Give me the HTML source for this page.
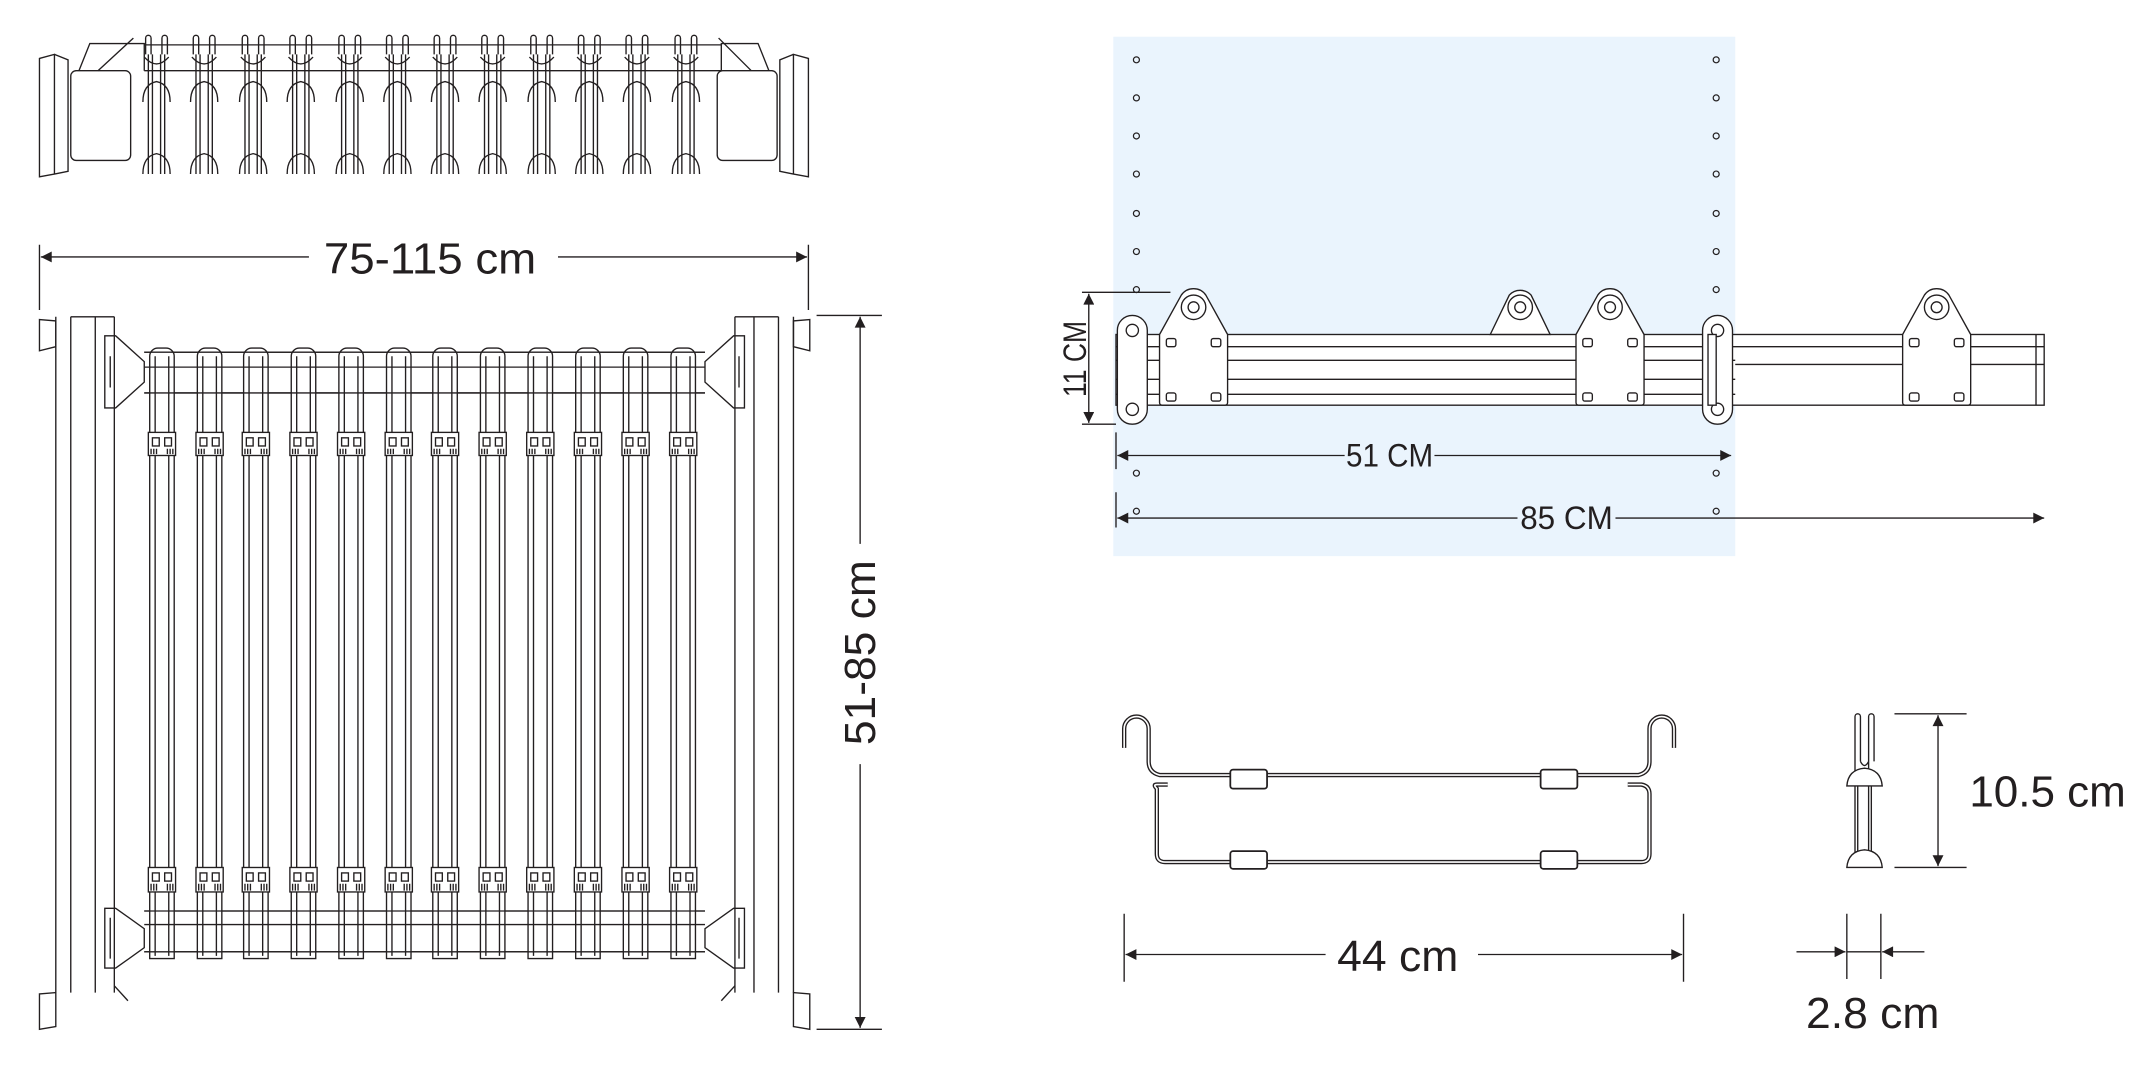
<!DOCTYPE html>
<html><head><meta charset="utf-8"><style>
html,body{margin:0;padding:0;background:#fff;}
svg{display:block;}
text{font-family:"Liberation Sans",sans-serif;fill:#231f20;}
</style></head><body>
<svg width="2134" height="1066" viewBox="0 0 1568 784" preserveAspectRatio="none" xmlns="http://www.w3.org/2000/svg">
<defs>
<marker id="ar" viewBox="0 0 10 10" refX="10" refY="5" markerWidth="10" markerHeight="8" markerUnits="userSpaceOnUse" orient="auto-start-reverse"><path d="M0,0 L10,5 L0,10 z" fill="#231f20"/></marker>
<g id="th" fill="none" stroke="#231f20" stroke-width="1">
<path d="M-8,40 V28 a2,2 0 0 1 4,0 V40 M4,40 V28 a2,2 0 0 1 4,0 V40"/>
<path d="M-6,40 V128 M-3,40 V128 M3,40 V128 M6,40 V128"/>
<path d="M-10,75 Q-10,62 0,60 Q10,62 10,75 M-10,128 Q-10,115 0,113 Q10,115 10,128"/>
<path d="M-9,42 Q0,52 9,42"/>
</g>
<g id="fh" fill="none" stroke="#231f20" stroke-width="1">
<path d="M-9,705 V262 a6,6 0 0 1 6,-6 H3 a6,6 0 0 1 6,6 V705 Z" fill="#fff"/>
<path d="M-5,262 V703 M5,262 V703"/>
<rect x="-10" y="318" width="20" height="17" fill="#fff"/>
<rect x="-7" y="322" width="5" height="6"/><rect x="2" y="322" width="5" height="6"/>
<path d="M-8,330 V334 M-6,330 V334 M-4,330 V334 M4,330 V334 M6,330 V334 M8,330 V334"/>
<rect x="-10" y="638" width="20" height="18" fill="#fff"/>
<rect x="-7" y="642" width="5" height="6"/><rect x="2" y="642" width="5" height="6"/>
<path d="M-8,650 V655 M-6,650 V655 M-4,650 V655 M4,650 V655 M6,650 V655 M8,650 V655"/>
</g>
<g id="mount" fill="#fff" stroke="#231f20" stroke-width="1">
<path d="M-25,246 L-9,217 A11,11 0 0 1 9,217 L25,246 V296 a2,2 0 0 1 -2,2 H-23 a2,2 0 0 1 -2,-2 Z"/>
<circle cx="0" cy="226" r="9"/><circle cx="0" cy="226" r="4"/>
<rect x="-20" y="249" width="7" height="6" rx="1.5"/><rect x="13" y="249" width="7" height="6" rx="1.5"/>
<rect x="-20" y="289" width="7" height="6" rx="1.5"/><rect x="13" y="289" width="7" height="6" rx="1.5"/>
</g>
<g id="cap" fill="#fff" stroke="#231f20" stroke-width="1">
<rect x="-11" y="232" width="22" height="80" rx="11"/>
<circle cx="0" cy="243" r="4.5"/><circle cx="0" cy="301" r="4.5"/>
</g>
</defs>

<!-- TOP VIEW -->
<g fill="none" stroke="#231f20" stroke-width="1">
<path d="M29,43 L40,40 V128 L29,130 Z M40,40 L50,44 V126 L40,128"/>
<rect x="52" y="52" width="44" height="66" rx="4"/>
<path d="M58,52 L66,32 H106 V52 M72,52 L98,28"/>
<path d="M106,33 H530 M106,52 H530"/>
<path d="M594,43 L583,40 V128 L594,130 Z M583,40 L573,44 V126 L583,128"/>
<rect x="527" y="52" width="44" height="66" rx="4"/>
<path d="M565,52 L557,32 H530 V52 M552,52 L528,28"/>
</g>
<use href="#th" x="115"/><use href="#th" x="150"/><use href="#th" x="186"/><use href="#th" x="221"/>
<use href="#th" x="257"/><use href="#th" x="292"/><use href="#th" x="327"/><use href="#th" x="362"/>
<use href="#th" x="398"/><use href="#th" x="433"/><use href="#th" x="468"/><use href="#th" x="504"/>

<!-- 75-115 dimension -->
<g stroke="#231f20" stroke-width="1" fill="none">
<path d="M29,180 V228 M594,180 V228"/>
<path d="M30,189 H227" marker-start="url(#ar)"/>
<path d="M410,189 H593" marker-end="url(#ar)"/>
</g>
<text x="316" y="201" font-size="32" text-anchor="middle" textLength="156" lengthAdjust="spacingAndGlyphs">75-115 cm</text>

<!-- FRONT VIEW -->
<g fill="none" stroke="#231f20" stroke-width="1">
<path d="M41,233 V730 M52,233 V730 M70,233 V730 M84,233 V730 M52,233 H84"/>
<path d="M29,235 L41,236 V255 L29,258 Z M29,731 L41,730 V755 L29,757 Z"/>
<path d="M583,233 V730 M572,233 V730 M554,233 V730 M540,233 V730 M540,233 H572"/>
<path d="M595,235 L583,236 V255 L595,258 Z M595,731 L583,730 V755 L595,757 Z"/>
<path d="M84,725 L94,736 M540,725 L530,736"/>
<path d="M77,247 L85,247 L106,266 V281 L85,300 L77,300 Z M81,262 V285"/>
<path d="M547,247 L539,247 L518,266 V281 L539,300 L547,300 Z M543,262 V285"/>
<path d="M106,259 H518 M106,289 H518"/>
<path d="M77,668 L85,668 L106,683 V697 L85,712 L77,712 Z M81,675 V705"/>
<path d="M547,668 L539,668 L518,683 V697 L539,712 L547,712 Z M543,675 V705"/>
<path d="M106,670 H518 M106,700 H518"/>
</g>
<use href="#fh" x="119"/><use href="#fh" x="154"/><use href="#fh" x="188"/><use href="#fh" x="223"/>
<use href="#fh" x="258"/><use href="#fh" x="293"/><use href="#fh" x="327"/><use href="#fh" x="362"/>
<use href="#fh" x="397"/><use href="#fh" x="432"/><use href="#fh" x="467"/><use href="#fh" x="502"/>
<g fill="none" stroke="#231f20" stroke-width="1"><path d="M106,259 H518 M106,270 H518 M106,289 H518 M106,670 H518 M106,680 H518 M106,700 H518"/></g>

<!-- 51-85 dimension -->
<g stroke="#231f20" stroke-width="1" fill="none">
<path d="M600,232 H648 M600,757 H648"/>
<path d="M632,233 V400" marker-start="url(#ar)"/>
<path d="M632,562 V756" marker-end="url(#ar)"/>
</g>
<text transform="translate(643,480) rotate(-90)" font-size="32" text-anchor="middle" textLength="136" lengthAdjust="spacingAndGlyphs">51-85 cm</text>

<!-- RAIL VIEW -->
<rect x="818" y="27" width="457" height="382" fill="#eaf4fd"/>
<g fill="none" stroke="#231f20" stroke-width="0.9">
<circle cx="835" cy="44" r="2.2"/><circle cx="835" cy="72" r="2.2"/><circle cx="835" cy="100" r="2.2"/><circle cx="835" cy="128" r="2.2"/><circle cx="835" cy="157" r="2.2"/><circle cx="835" cy="185" r="2.2"/><circle cx="835" cy="213" r="2.2"/><circle cx="835" cy="348" r="2.2"/><circle cx="835" cy="376" r="2.2"/>
<circle cx="1261" cy="44" r="2.2"/><circle cx="1261" cy="72" r="2.2"/><circle cx="1261" cy="100" r="2.2"/><circle cx="1261" cy="128" r="2.2"/><circle cx="1261" cy="157" r="2.2"/><circle cx="1261" cy="185" r="2.2"/><circle cx="1261" cy="213" r="2.2"/><circle cx="1261" cy="348" r="2.2"/><circle cx="1261" cy="376" r="2.2"/>
</g>
<g fill="#fff" stroke="#231f20" stroke-width="1">
<rect x="820" y="246" width="682" height="52"/>
<path d="M820,255 H1502 M820,265 H1275 M1275,268 H1502 M820,279 H1275 M820,290 H1275 M1496,246 V298" fill="none"/>
<path d="M1095,246 L1109,217 A11,11 0 0 1 1125,217 L1139,246 Z"/>
<circle cx="1117" cy="226" r="9"/><circle cx="1117" cy="226" r="4"/>
</g>
<use href="#mount" x="877"/><use href="#mount" x="1183"/><use href="#mount" x="1423"/>
<use href="#cap" x="832"/><use href="#cap" x="1262"/>
<rect x="1255" y="246" width="6" height="52" fill="#fff" stroke="#231f20" stroke-width="1"/>

<g stroke="#231f20" stroke-width="1" fill="none">
<path d="M795,215 H860 M795,312 H820"/>
<path d="M800,216 V311" marker-start="url(#ar)" marker-end="url(#ar)"/>
<path d="M820,318 V345 M820,362 V388"/>
<path d="M821,335 H988" marker-start="url(#ar)"/>
<path d="M1054,335 H1272" marker-end="url(#ar)"/>
<path d="M821,381 H1115" marker-start="url(#ar)"/>
<path d="M1187,381 H1502" marker-end="url(#ar)"/>
</g>
<text transform="translate(798,264) rotate(-90)" font-size="24" text-anchor="middle" textLength="56" lengthAdjust="spacingAndGlyphs">11 CM</text>
<text x="1021" y="343" font-size="24" text-anchor="middle" textLength="64" lengthAdjust="spacingAndGlyphs">51 CM</text>
<text x="1151" y="389" font-size="24" text-anchor="middle" textLength="68" lengthAdjust="spacingAndGlyphs">85 CM</text>

<!-- HANGER -->
<g fill="none" stroke="#231f20" stroke-width="3.2" stroke-linejoin="round">
<path d="M826,550 V536 A9,9 0 0 1 844,536 V560 Q844,568 852,570 H1204 Q1212,568 1212,560 V536 A9,9 0 0 1 1230,536 V550"/>
<path d="M858,577 H850 Q847,577 850,580 V628 Q850,634 856,634 H1206 Q1212,634 1212,628 V584 Q1212,578 1206,577 H1196"/>
</g>
<g fill="none" stroke="#fff" stroke-width="1.2" stroke-linejoin="round">
<path d="M826,550 V536 A9,9 0 0 1 844,536 V560 Q844,568 852,570 H1204 Q1212,568 1212,560 V536 A9,9 0 0 1 1230,536 V550"/>
<path d="M858,577 H850 Q847,577 850,580 V628 Q850,634 856,634 H1206 Q1212,634 1212,628 V584 Q1212,578 1206,577 H1196"/>
</g>
<g fill="#fff" stroke="#231f20" stroke-width="1.3">
<rect x="904" y="566" width="27" height="14" rx="2"/><rect x="1132" y="566" width="27" height="14" rx="2"/>
<rect x="904" y="626" width="27" height="13" rx="2"/><rect x="1132" y="626" width="27" height="13" rx="2"/>
</g>
<g stroke="#231f20" stroke-width="1" fill="none">
<path d="M826,672 V722 M1237,672 V722"/>
<path d="M827,702 H974" marker-start="url(#ar)"/>
<path d="M1086,702 H1236" marker-end="url(#ar)"/>
</g>
<text x="1027" y="714" font-size="32" text-anchor="middle" textLength="89" lengthAdjust="spacingAndGlyphs">44 cm</text>

<!-- SIDE VIEW -->
<g fill="#fff" stroke="#231f20" stroke-width="1">
<path d="M1363,638 V527 a2,2 0 0 1 4,0 V560 M1373,638 V527 a2,2 0 0 1 4,0 V560 M1367,560 Q1370,566 1373,560"/>
<path d="M1357,578 Q1358,566 1370,565 Q1382,566 1383,578 Z"/>
<path d="M1357,638 Q1358,626 1370,625 Q1382,626 1383,638 Z"/>
<path d="M1365,578 V626 M1375,578 V626" fill="none"/>
</g>
<g stroke="#231f20" stroke-width="1" fill="none">
<path d="M1392,525 H1445 M1392,638 H1445"/>
<path d="M1424,526 V637" marker-start="url(#ar)" marker-end="url(#ar)"/>
<path d="M1357,672 V720 M1382,672 V720"/>
<path d="M1320,700 H1356" marker-end="url(#ar)"/>
<path d="M1414,700 H1383" marker-end="url(#ar)"/>
<path d="M1357,700 H1382"/>
</g>
<text x="1447" y="593" font-size="32" textLength="115" lengthAdjust="spacingAndGlyphs">10.5 cm</text>
<text x="1376" y="756" font-size="32" text-anchor="middle" textLength="98" lengthAdjust="spacingAndGlyphs">2.8 cm</text>
</svg>
</body></html>
